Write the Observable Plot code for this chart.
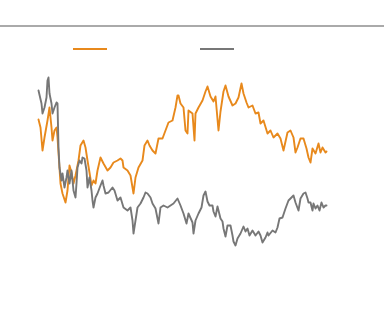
<!DOCTYPE html>
<html>
<head>
<meta charset="utf-8">
<script src="https://cdn.jsdelivr.net/npm/d3@7"></script>
<script src="https://cdn.jsdelivr.net/npm/@observablehq/plot@0.6"></script>
<style>
  body { margin: 0; background: #fff; font-family: "Noto Sans", sans-serif; }
  #wrap { width: 384px; height: 318px; position: relative; overflow: hidden; }
  #rule { position: absolute; left: 0; top: 25px; width: 384px; height: 2px; background: #aaa; }
  .sw { position: absolute; top: 48px; width: 34px; height: 2px; }
  #chart { position: absolute; left: 0; top: 60px; }
  svg { display: block; }
</style>
</head>
<body>
<div id="wrap">
  <div id="rule"></div>
  <div class="sw" id="sw0"></div>
  <div class="sw" id="sw1"></div>
  <div id="chart"></div>
</div>
<script>
// Series names and colours
const seriesNames = ["A", "B"];
const seriesColors = ["#e8891c", "#777777"];

// Series A (orange): time index and value
const orangeT = [0,2,4,6,9,11,13,14,16,18,19,22,24,27,29,31,33,35,37,40,42,45,47,49,51,53,55,57,59,62,65,69,72,75,79,82,84,85,89,92,95,97,100,104,106,109,111,114,117,120,124,127,130,134,137,139,140,142,145,147,149,150,154,156,157,160,164,167,169,172,175,177,180,182,185,187,190,194,197,200,203,205,208,210,214,217,220,222,225,229,232,235,239,242,245,249,252,255,257,259,262,265,268,270,272,274,277,280,282,284,287,288];
const orangeV = [131,123,100,113,130,143,123,110,120,123,113,67,57,48,60,85,78,67,75,90,105,110,103,90,78,65,70,67,80,93,87,80,83,88,90,92,90,83,80,75,57,73,83,90,105,110,105,100,97,112,112,120,128,130,143,155,155,147,143,120,117,140,137,110,137,143,150,159,164,154,149,154,120,139,159,165,154,145,147,153,167,157,148,143,145,137,138,127,130,117,120,113,117,112,100,118,120,113,98,103,112,112,102,93,88,102,97,107,98,103,98,99];

// Series B (gray): time index and value
const grayT = [0,3,4,6,8,9,10,11,13,14,16,18,19,20,21,23,24,26,28,29,31,33,35,37,38,39,41,43,44,46,48,49,51,53,54,55,57,59,62,64,65,67,70,74,76,79,82,85,89,92,94,95,97,99,102,105,107,109,112,114,117,120,122,125,129,132,135,139,142,145,148,150,154,155,157,160,163,165,167,169,171,174,175,177,179,180,182,184,185,187,189,192,194,195,197,199,202,205,207,209,211,214,217,220,222,224,227,229,230,234,237,239,241,244,247,250,253,255,257,260,262,265,267,269,270,272,274,275,277,279,281,283,285,287,288];
const grayV = [160,147,137,143,153,170,173,157,147,137,143,148,147,103,83,70,77,63,73,80,67,80,60,53,67,83,90,87,93,92,80,63,73,60,50,43,53,57,65,70,65,57,58,63,60,50,53,43,40,43,30,17,30,43,47,53,58,57,53,47,42,27,43,45,43,45,47,52,45,37,27,37,28,17,30,37,43,55,59,49,45,45,39,34,44,40,32,29,22,14,25,25,15,9,5,12,17,24,19,22,15,20,15,19,15,8,13,18,15,20,18,23,32,33,42,50,53,55,48,40,52,57,58,52,48,48,40,47,42,45,40,48,43,45,45];

const data = [
  ...orangeT.map((t, i) => ({series: seriesNames[0], t, v: orangeV[i]})),
  ...grayT.map((t, i) => ({series: seriesNames[1], t, v: grayV[i]}))
];

document.getElementById("sw0").style.cssText += `left:73px;background:${seriesColors[0]}`;
document.getElementById("sw1").style.cssText += `left:200px;background:${seriesColors[1]}`;

const chart = Plot.plot({
  width: 384,
  height: 258,
  marginLeft: 38,
  marginRight: 58,
  marginTop: 10,
  marginBottom: 68,
  x: {domain: [0, 288], axis: null},
  y: {domain: [0, 180], axis: null},
  color: {domain: seriesNames, range: seriesColors},
  marks: [
    Plot.line(data, {x: "t", y: "v", z: "series", stroke: "series", strokeWidth: 1.9, strokeLinejoin: "round"})
  ]
});
document.getElementById("chart").appendChild(chart);
</script>
</body>
</html>
